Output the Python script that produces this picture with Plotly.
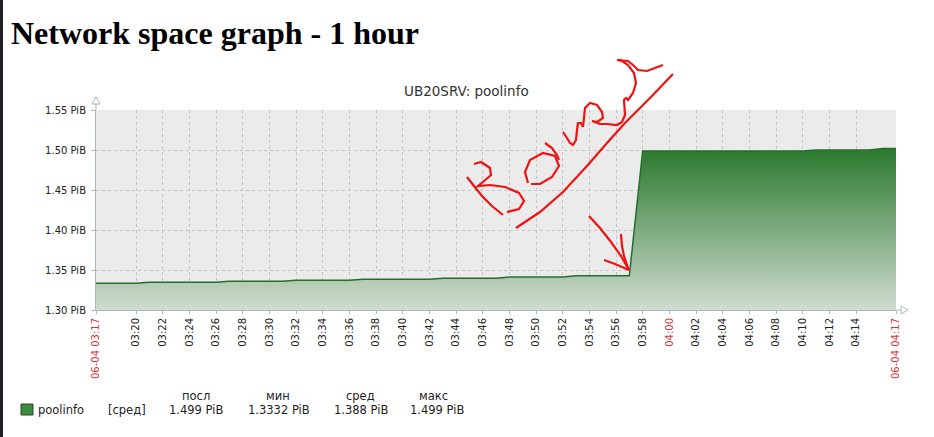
import plotly.graph_objects as go
import pandas as pd

# ---------------- data ----------------
times = pd.date_range("2021-06-04 03:17", "2021-06-04 04:17", freq="1min")
pool_values = (
    [1.3335] * 4 +   # 03:17-03:20
    [1.3348] * 6 +   # 03:21-03:26
    [1.3360] * 5 +   # 03:27-03:31
    [1.3372] * 5 +   # 03:32-03:36
    [1.3385] * 6 +   # 03:37-03:42
    [1.3398] * 5 +   # 03:43-03:47
    [1.3412] * 5 +   # 03:48-03:52
    [1.3428] * 5 +   # 03:53-03:57
    [1.4988] * 13 +  # 03:58-04:10
    [1.5000] * 5 +   # 04:11-04:15
    [1.5020] * 2     # 04:16-04:17
)
y_ticks = [1.30, 1.35, 1.40, 1.45, 1.50, 1.55]
x_tick_times = (["2021-06-04 03:17"] +
                [f"2021-06-04 03:{m:02d}" for m in range(20, 60, 2)] +
                [f"2021-06-04 04:{m:02d}" for m in range(0, 16, 2)] +
                ["2021-06-04 04:17"])
RED = "#d8343c"
def lab(t):
    hm = t[11:16]
    if hm in ("03:17", "04:17"):
        return f"<span style='color:{RED}'>06-04 {hm}</span>"
    if hm == "04:00":
        return f"<span style='color:{RED}'>{hm}</span>"
    return hm
x_tick_text = [lab(t) for t in x_tick_times]

legend_name = "poolinfo"
legend_func = "[сред]"
stat_headers = ["посл", "мин", "сред", "макс"]
stat_values = ["1.499 PiB", "1.3332 PiB", "1.388 PiB", "1.499 PiB"]

# ---------------- geometry helpers (pixel -> paper) ----------------
L, T, W, H = 96, 110, 800, 200
def px(x, y):
    return (x - L) / W, (T + H - y) / H
def path(pts):
    s = ""
    for i, (x, y) in enumerate(pts):
        a, b = px(x, y)
        s += ("M" if i == 0 else "L") + f"{a:.5f},{b:.5f} "
    return s.strip()

fig = go.Figure()
fig.add_trace(go.Scatter(
    x=times, y=pool_values, mode="lines",
    line=dict(color="rgb(38,110,44)", width=1.5),
    fill="tozeroy",
    fillgradient=dict(type="vertical",
                      colorscale=[[0, "rgb(208,220,208)"], [1, "rgb(44,122,48)"]],
                      start=1.30, stop=1.50),
    hoverinfo="skip", showlegend=False,
))

axis_col = "rgb(172,182,192)"
fig.update_layout(
    width=934, height=437,
    margin=dict(l=L, r=934 - L - W, t=T, b=437 - T - H),
    paper_bgcolor="white", plot_bgcolor="rgb(235,235,235)",
    font=dict(family="DejaVu Sans", color="#222"),
    xaxis=dict(range=[times[0], times[-1]], tickvals=x_tick_times, ticktext=x_tick_text,
               tickangle=-90, tickfont=dict(size=10, color="#222"),
               showgrid=True, gridcolor="rgb(196,196,196)", griddash="dot", gridwidth=1,
               showline=True, linecolor=axis_col, linewidth=1,
               ticks="outside", ticklen=3, tickcolor=axis_col, zeroline=False,
               fixedrange=True),
    yaxis=dict(range=[1.30, 1.55], tickvals=y_ticks,
               ticktext=[f"{v:.2f} PiB" for v in y_ticks],
               tickfont=dict(size=10, color="#222"), ticklabelstandoff=3,
               showgrid=True, gridcolor="rgb(196,196,196)", griddash="dot", gridwidth=1,
               showline=True, linecolor=axis_col, linewidth=1,
               ticks="outside", ticklen=4, tickcolor=axis_col, zeroline=False,
               fixedrange=True),
)

shapes = []
# dark left border strip of the page
shapes.append(dict(type="rect", xref="paper", yref="paper",
                   x0=px(0, 0)[0], x1=px(3, 0)[0], y0=px(0, 437)[1], y1=px(0, 0)[1],
                   fillcolor="#1d2125", line=dict(width=0), layer="above"))
# axis extensions and arrow heads
shapes.append(dict(type="path", xref="paper", yref="paper",
                   path=path([(96, 110), (96, 104)]), line=dict(color=axis_col, width=1)))
shapes.append(dict(type="path", xref="paper", yref="paper",
                   path=path([(92, 104), (96, 97), (100, 104)]) + " Z",
                   line=dict(color=axis_col, width=1), fillcolor="white"))
shapes.append(dict(type="path", xref="paper", yref="paper",
                   path=path([(896, 310), (901, 310)]), line=dict(color=axis_col, width=1)))
shapes.append(dict(type="path", xref="paper", yref="paper",
                   path=path([(901, 306), (908, 310), (901, 314)]) + " Z",
                   line=dict(color=axis_col, width=1), fillcolor="white"))
# legend square
a0, b0 = px(21, 415)
a1, b1 = px(33, 404)
shapes.append(dict(type="rect", xref="paper", yref="paper", x0=a0, x1=a1, y0=b0, y1=b1,
                   fillcolor="rgb(62,140,64)", line=dict(color="rgb(40,70,42)", width=1)))

# red hand-drawn scribble
red = dict(color="rgb(240,18,18)", width=2.2)
strokes = [
    # B
    [(467, 177), (474, 186), (482, 196), (492, 206), (503, 215)],
    [(474, 164), (481, 162), (490, 168), (491, 175), (484, 181), (478, 186), (490, 185),
     (505, 187), (519, 193), (524, 201), (519, 209), (507, 212)],
    # o
    [(528, 183), (525, 172), (530, 160), (543, 153), (555, 156), (559, 166), (552, 177),
     (540, 184), (531, 184)],
    # u / e / top hook
    [(545, 143), (552, 148), (557, 155), (559, 160)],
    [(563, 132), (567, 138), (570, 143), (573, 145), (576, 140), (577, 130), (578, 123),
     (581, 123), (583, 127)],
    [(583, 127), (584, 118), (585, 108), (590, 103), (597, 105), (602, 112), (603, 118),
     (597, 122), (592, 121), (600, 124), (607, 124), (617, 125), (622, 122), (625, 115),
     (624, 100), (626, 98), (628, 100), (633, 93), (636, 83), (634, 73), (628, 65),
     (622, 61), (617, 60), (628, 61), (633, 65), (638, 70), (647, 71), (655, 68),
     (663, 65)],
    # underline
    [(516, 228), (540, 212), (563, 192), (587, 166), (607, 143), (625, 123), (650, 98),
     (673, 74)],
    # arrow
    [(589, 216), (600, 228), (611, 242), (621, 256), (629, 270)],
    [(604, 260), (615, 264), (629, 270)],
    [(621, 234), (622, 246), (624, 256), (628, 268)],
]
for s in strokes:
    shapes.append(dict(type="path", xref="paper", yref="paper", path=path(s), line=red,
                       layer="above"))
fig.update_layout(shapes=shapes)

ann = []
def text(x, y, t, size, xanchor="left", color="#222", family="DejaVu Sans", bold=False):
    a, b = px(x, y)
    ann.append(dict(xref="paper", yref="paper", x=a, y=b, text=(f"<b>{t}</b>" if bold else t),
                    showarrow=False, xanchor=xanchor, yanchor="middle",
                    font=dict(size=size, color=color, family=family)))

text(9, 33, "Network space graph - 1 hour", 32, family="Liberation Serif", color="#000",
     bold=True)
text(466, 91, "UB20SRV: poolinfo", 13.5, xanchor="center", color="#333")
text(36, 410, legend_name, 11.5)
text(106, 410, legend_func, 11.5)
head_x = [196, 278, 360, 433]
val_x = [196, 279, 361, 437]
for hx, vx, hd, vl in zip(head_x, val_x, stat_headers, stat_values):
    text(hx, 396, hd, 11.5, xanchor="center")
    text(vx, 410, vl, 11.5, xanchor="center")
fig.update_layout(annotations=ann)

fig.write_html("out.html", config={"displayModeBar": False},
               post_script="document.body.style.margin='0';document.body.style.overflow='hidden';")
